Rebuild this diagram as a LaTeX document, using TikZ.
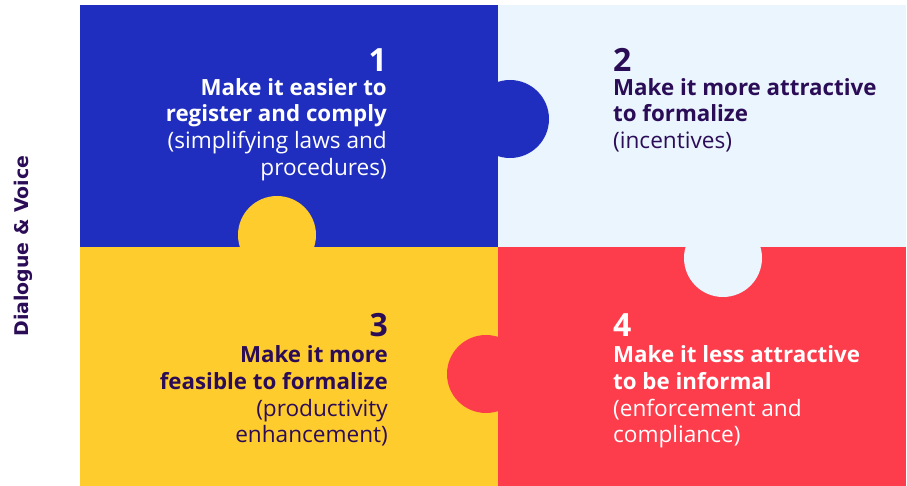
\documentclass[tikz,border=0pt]{standalone}
\usepackage{fontspec}
\setmainfont{Open Sans}
\newfontfamily\labelfont{DejaVu Sans}
\definecolor{pzblue}{HTML}{1F2EBE}
\definecolor{pzlight}{HTML}{EAF5FE}
\definecolor{pzyellow}{HTML}{FFCC2E}
\definecolor{pzred}{HTML}{FD3C4C}
\definecolor{pzdark}{HTML}{2B0C57}
\begin{document}
\begin{tikzpicture}[x=1pt,y=-1pt,
  numtxt/.style={inner sep=0pt,font=\bfseries\fontsize{32}{32}\selectfont},
  headtxt/.style={inner sep=0pt,font=\bfseries\fontsize{22.3}{26}\selectfont},
  bodytxt/.style={inner sep=0pt,font=\fontsize{22.6}{26}\selectfont},
  lefttxt/.style={anchor=base east},
  righttxt/.style={anchor=base west}]
\useasboundingbox (0,0) rectangle (907,486);
\fill[white] (0,0) rectangle (907,486);
% quadrants
\fill[pzblue] (80,5) rectangle (498,247);
\fill[pzlight] (498,5) rectangle (906,247);
\fill[pzyellow] (80,247) rectangle (498,486);
\fill[pzred] (498,247) rectangle (906,486);
% tabs
\fill[pzblue] (510,119) circle (39);
\fill[pzyellow] (277,235) circle (39);
\fill[pzlight] (723,258) circle (39);
\fill[pzred] (486,374) circle (39);
% quadrant 1
\node[numtxt,lefttxt,white] (n1) at (387,72) {1};
\node[headtxt,lefttxt,white] (h1a) at (387,96) {Make it easier to};
\node[headtxt,lefttxt,white] (h1b) at (387,122) {register and comply};
\node[bodytxt,lefttxt,white] (b1a) at (387,149) {(simplifying laws and};
\node[bodytxt,lefttxt,white] (b1b) at (387,176) {procedures)};
% quadrant 2
\node[numtxt,righttxt,pzdark] (n2) at (613,72) {2};
\node[headtxt,righttxt,pzdark] (h2a) at (613,96) {Make it more attractive};
\node[headtxt,righttxt,pzdark] (h2b) at (613,122) {to formalize};
\node[bodytxt,righttxt,pzdark] (b2a) at (613,149) {(incentives)};
% quadrant 3
\node[numtxt,lefttxt,pzdark] (n3) at (388,336) {3};
\node[headtxt,lefttxt,pzdark] (h3a) at (388,362) {Make it more};
\node[headtxt,lefttxt,pzdark] (h3b) at (388,389) {feasible to formalize};
\node[bodytxt,lefttxt,pzdark] (b3a) at (388,416) {(productivity};
\node[bodytxt,lefttxt,pzdark] (b3b) at (388,442) {enhancement)};
% quadrant 4
\node[numtxt,righttxt,white] (n4) at (613,336) {4};
\node[headtxt,righttxt,white] (h4a) at (613,362) {Make it less attractive};
\node[headtxt,righttxt,white] (h4b) at (613,389) {to be informal};
\node[bodytxt,righttxt,white] (b4a) at (613,416) {(enforcement and};
\node[bodytxt,righttxt,white] (b4b) at (613,442) {compliance)};
% side label
\node[inner sep=0pt,anchor=base,rotate=90,text=pzdark,font=\labelfont\bfseries\fontsize{18.9}{20}\selectfont] (side) at (28,246) {Dialogue \& Voice};
\end{tikzpicture}
\end{document}
